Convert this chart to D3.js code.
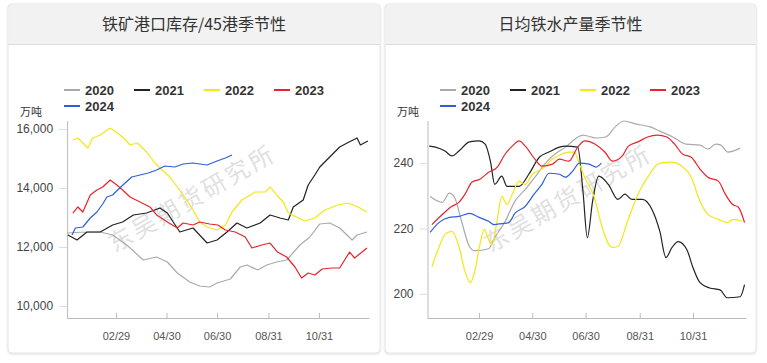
<!DOCTYPE html>
<html>
<head>
<meta charset="utf-8">
<script src="https://cdn.jsdelivr.net/npm/d3@7"></script>
<style>
  body { margin: 0; background: #fff; }
  svg { display: block; font-family: "Liberation Sans", Arial, sans-serif; }
  .cjk { font-family: "Noto Sans CJK SC", sans-serif; }
</style>
</head>
<body>
<script>
// 铁矿港口库存/45港 (万吨), weekly readings, [MM-DD, value]
var port2020 = [["01-02",12474],["01-17",12500],["02-10",12508],["02-25",12407],["03-13",12068],["04-02",11559],["04-18",11661],["05-01",11491],["05-13",11118],["05-28",10813],["06-09",10678],["06-21",10644],["06-30",10780],["07-16",10915],["07-28",11322],["08-05",11390],["08-18",11220],["08-29",11390],["09-10",11491],["09-22",11559],["10-08",12068],["10-20",12339],["11-01",12780],["11-13",12813],["11-25",12644],["12-10",12237],["12-16",12407],["12-28",12508]];
var port2021 = [["01-02",12407],["01-13",12237],["01-25",12508],["02-10",12508],["02-25",12746],["03-08",12847],["03-21",13085],["04-06",13152],["04-22",13322],["05-01",13152],["05-16",12508],["06-01",12644],["06-18",12135],["06-30",12237],["07-12",12508],["07-24",12813],["08-05",12644],["08-21",12813],["09-02",13085],["09-14",12983],["09-24",12915],["09-30",13356],["10-12",13593],["10-18",14102],["10-26",14441],["11-01",14712],["11-13",15051],["11-25",15390],["12-04",15525],["12-16",15695],["12-20",15458],["12-29",15593]];
var port2022 = [["01-08",15627],["01-14",15695],["01-26",15356],["02-01",15695],["02-10",15797],["02-22",16034],["03-02",15864],["03-08",15729],["03-17",15458],["03-26",15525],["04-06",15220],["04-16",14847],["04-22",14678],["05-04",14373],["05-13",14034],["05-22",13695],["06-01",13254],["06-09",12847],["06-18",12678],["06-30",12576],["07-10",12746],["07-18",13186],["07-30",13593],["08-15",13864],["08-27",13864],["09-02",14034],["09-10",13763],["09-18",13525],["09-24",13152],["10-04",13017],["10-14",12881],["10-26",12983],["11-07",13254],["11-23",13424],["12-05",13492],["12-17",13356],["12-28",13186]];
var port2023 = [["01-08",13152],["01-14",13356],["01-20",13186],["01-29",13763],["02-06",13932],["02-13",14034],["02-22",14271],["03-01",14102],["03-08",13932],["03-17",13695],["03-29",13525],["04-10",13356],["04-18",13085],["05-01",12847],["05-13",12644],["05-20",12813],["06-01",12746],["06-09",12847],["06-21",12780],["07-01",12746],["07-10",12576],["07-22",12508],["08-03",12339],["08-11",11966],["08-23",12068],["09-02",12135],["09-11",11830],["09-22",11661],["10-02",11322],["10-10",10949],["10-18",11118],["10-26",11051],["11-04",11254],["11-16",11288],["11-25",11288],["12-01",11559],["12-07",11830],["12-13",11627],["12-22",11830],["12-28",11966]];
var port2024 = [["01-07",12407],["01-11",12644],["01-20",12678],["01-29",12983],["02-06",13186],["02-13",13458],["02-18",13695],["02-25",13763],["03-02",13932],["03-11",14169],["03-19",14373],["03-29",14441],["04-08",14508],["04-18",14610],["04-28",14746],["05-10",14712],["05-20",14814],["06-01",14847],["06-18",14780],["06-30",14915],["07-10",15017],["07-18",15119]];

// 日均铁水产量 (万吨)
var iron2020 = [["01-04",229.8],["01-18",228.0],["01-26",230.8],["02-01",229.5],["02-09",222.2],["02-18",214.5],["02-24",213.2],["03-11",213.8],["03-18",217.2],["03-30",222.2],["04-10",228.3],["04-22",232.0],["05-03",235.7],["05-14",239.7],["05-26",242.8],["06-07",244.9],["06-18",247.4],["06-27",248.6],["07-12",247.7],["07-23",248.0],["08-04",251.4],["08-13",252.9],["08-26",252.0],["09-12",251.1],["09-23",249.8],["10-08",248.0],["10-23",245.8],["11-08",245.5],["11-17",244.3],["11-26",245.8],["12-02",245.5],["12-10",243.4],["12-24",244.6]];
var iron2021 = [["01-03",245.2],["01-10",244.9],["01-21",243.7],["01-29",242.2],["02-06",243.7],["02-18",246.5],["02-29",246.8],["03-07",245.8],["03-13",240.6],["03-18",233.5],["03-26",236.0],["04-01",232.9],["04-15",232.9],["04-26",236.6],["05-08",241.8],["05-19",243.4],["05-31",244.9],["06-07",245.2],["06-21",244.9],["06-27",231.4],["07-02",217.2],["07-08",228.3],["07-15",236.0],["07-26",233.5],["08-06",228.9],["08-14",230.5],["08-22",228.9],["09-03",228.9],["09-14",225.8],["09-23",219.1],["09-30",211.1],["10-07",214.2],["10-14",216.0],["10-24",213.5],["10-31",208.0],["11-08",203.4],["11-19",201.8],["12-01",201.2],["12-09",198.8],["12-24",199.1],["12-29",202.8]];
var iron2022 = [["01-06",208.3],["01-14",214.2],["01-21",218.2],["01-29",219.1],["02-06",214.5],["02-13",206.8],["02-19",203.4],["02-24",206.8],["03-01",215.1],["03-06",219.7],["03-11",216.6],["03-15",215.1],["03-20",221.2],["03-26",229.8],["04-01",227.4],["04-07",230.5],["04-15",234.5],["04-22",233.5],["04-30",236.6],["05-11",238.2],["05-23",241.2],["06-03",242.8],["06-11",243.4],["06-17",243.4],["06-23",239.7],["06-29",235.7],["07-10",229.5],["07-19",220.3],["07-30",214.2],["08-06",214.5],["08-17",222.2],["08-29",230.5],["09-09",235.7],["09-23",240.0],["10-07",240.3],["10-18",239.1],["10-29",235.7],["11-08",228.3],["11-17",224.3],["11-29",222.8],["12-09",221.8],["12-16",222.8],["12-26",222.2]];
var iron2023 = [["01-06",221.2],["01-18",224.3],["01-29",226.8],["02-06",228.0],["02-13",230.5],["02-21",234.2],["03-01",235.1],["03-11",237.2],["03-21",238.8],["03-30",242.8],["04-07",245.2],["04-15",246.8],["04-22",245.2],["05-03",241.2],["05-11",239.1],["05-23",239.7],["05-31",241.2],["06-11",240.6],["06-21",244.9],["06-29",246.8],["07-11",245.8],["07-22",243.4],["07-31",240.6],["08-11",242.2],["08-18",245.2],["08-29",246.5],["09-09",248.0],["09-20",248.6],["10-01",248.0],["10-10",245.8],["10-19",242.8],["10-29",241.8],["11-08",238.2],["11-17",235.7],["11-29",234.5],["12-07",230.5],["12-15",227.4],["12-22",226.5],["12-29",221.8]];
var iron2024 = [["01-04",218.8],["01-14",221.8],["01-26",223.4],["02-06",223.7],["02-18",224.6],["02-29",223.4],["03-11",222.2],["03-17",221.2],["03-26",221.5],["04-03",221.8],["04-10",224.6],["04-22",226.8],["05-02",230.5],["05-11",233.5],["05-19",236.9],["05-31",236.6],["06-07",235.7],["06-15",237.5],["06-23",240.0],["07-04",239.7],["07-12",238.8],["07-18",240.0]];

var years = ["2020", "2021", "2022", "2023", "2024"];
var yearColors = ["#aaaaaa", "#222222", "#f5e614", "#e8232c", "#2f5fd8"];
var xTicks = ["02-29", "04-30", "06-30", "08-31", "10-31"];
var portTicks = [10000, 12000, 14000, 16000];
var ironTicks = [200, 220, 240];

var parse = d3.timeParse("%Y-%m-%d");
function toDate(md) { return parse("2024-" + md); }

var svg = d3.select("body").append("svg")
    .attr("width", 767)
    .attr("height", 363);

var defs = svg.append("defs");
var shadow = defs.append("filter").attr("id", "shadow")
    .attr("x", "-5%").attr("y", "-5%").attr("width", "110%").attr("height", "110%");
shadow.append("feDropShadow").attr("dx", 0).attr("dy", 1)
    .attr("stdDeviation", 1.2).attr("flood-color", "#000").attr("flood-opacity", 0.12);

function drawPanel(p) {
    var g = svg.append("g");

    // card + header
    g.append("rect")
        .attr("x", p.left).attr("y", 4)
        .attr("width", p.width).attr("height", 349)
        .attr("rx", 4)
        .attr("fill", "#fff")
        .attr("stroke", "#e4e4e4")
        .attr("filter", "url(#shadow)");
    g.append("path")
        .attr("d", "M" + (p.left + 0.5) + ",44 V8.5 q0,-4 4,-4 H" + (p.left + p.width - 4.5) +
            " q4,0 4,4 V44 Z")
        .attr("fill", "#f2f2f2");
    g.append("line")
        .attr("x1", p.left).attr("x2", p.left + p.width)
        .attr("y1", 44.5).attr("y2", 44.5)
        .attr("stroke", "#dcdcdc");
    g.append("text")
        .attr("class", "cjk")
        .attr("x", p.left + p.width / 2).attr("y", 30)
        .attr("text-anchor", "middle")
        .attr("font-size", 16)
        .attr("fill", "#333")
        .text(p.title);

    var x = d3.scaleTime()
        .domain([toDate("01-01"), toDate("12-31")])
        .range([p.x0, p.x1]);
    var y = d3.scaleLinear()
        .domain(p.yDomain)
        .range([318, 121]);

    // watermark
    g.append("text")
        .attr("class", "cjk")
        .attr("transform", "translate(" + p.wmX + ",200) rotate(-30)")
        .attr("text-anchor", "middle")
        .attr("dominant-baseline", "middle")
        .attr("font-size", 24)
        .attr("letter-spacing", 3)
        .attr("fill", "#d8d8d8")
        .attr("fill-opacity", 0.8)
        .text("东吴期货研究所");

    // axes
    var xAxis = g.append("g")
        .attr("transform", "translate(0,318)")
        .call(d3.axisBottom(x)
            .tickValues(xTicks.map(toDate))
            .tickFormat(d3.timeFormat("%m/%d"))
            .tickSize(-5)
            .tickPadding(14));
    xAxis.select(".domain").attr("stroke", "#bbb").attr("d", "M" + p.x0 + ",0.5H" + p.x1);
    xAxis.selectAll(".tick line").attr("stroke", "#bbb");
    xAxis.selectAll(".tick text").attr("fill", "#555").attr("font-size", 11);

    var yAxis = g.append("g")
        .attr("transform", "translate(" + p.x0 + ",0)")
        .call(d3.axisLeft(y)
            .tickValues(p.yTicks)
            .tickFormat(p.yFormat)
            .tickSize(8)
            .tickPadding(6));
    yAxis.select(".domain").attr("stroke", "#bbb").attr("d", "M0.5,121V318");
    yAxis.selectAll(".tick line").attr("stroke", "#ddd");
    yAxis.selectAll(".tick text").attr("fill", "#444").attr("font-size", 12);

    g.append("text")
        .attr("class", "cjk")
        .attr("x", p.left + 12).attr("y", 116)
        .attr("font-size", 11)
        .attr("fill", "#333")
        .text("万吨");

    // lines
    var line = d3.line()
        .x(d => x(toDate(d[0])))
        .y(d => y(d[1]))
        .curve(p.curve);
    p.series.forEach(function (s, i) {
        g.append("path")
            .datum(s)
            .attr("d", line)
            .attr("fill", "none")
            .attr("stroke", yearColors[i])
            .attr("stroke-width", 1.2)
            .attr("stroke-linejoin", "round");
    });

    // legend
    var legend = g.append("g");
    years.forEach(function (yr, i) {
        var lx = p.legendX + (i % 4) * 70;
        var ly = 90 + Math.floor(i / 4) * 16;
        legend.append("line")
            .attr("x1", lx).attr("x2", lx + 16)
            .attr("y1", ly).attr("y2", ly)
            .attr("stroke", yearColors[i])
            .attr("stroke-width", 2);
        legend.append("text")
            .attr("x", lx + 21).attr("y", ly + 4.5)
            .attr("font-size", 13)
            .attr("font-weight", "bold")
            .attr("fill", "#333")
            .text(yr);
    });
}

drawPanel({
    left: 8, width: 372,
    title: "铁矿港口库存/45港季节性",
    x0: 67.1, x1: 369.5,
    yDomain: [9593, 16271],
    yTicks: portTicks,
    yFormat: d3.format(","),
    series: [port2020, port2021, port2022, port2023, port2024],
    curve: d3.curveLinear,
    legendX: 64,
    wmX: 193
});

drawPanel({
    left: 385, width: 371,
    title: "日均铁水产量季节性",
    x0: 427.5, x1: 746.3,
    yDomain: [192.6, 252.9],
    yTicks: ironTicks,
    yFormat: d3.format("d"),
    series: [iron2020, iron2021, iron2022, iron2023, iron2024],
    curve: d3.curveMonotoneX,
    legendX: 440,
    wmX: 569
});
</script>
</body>
</html>
